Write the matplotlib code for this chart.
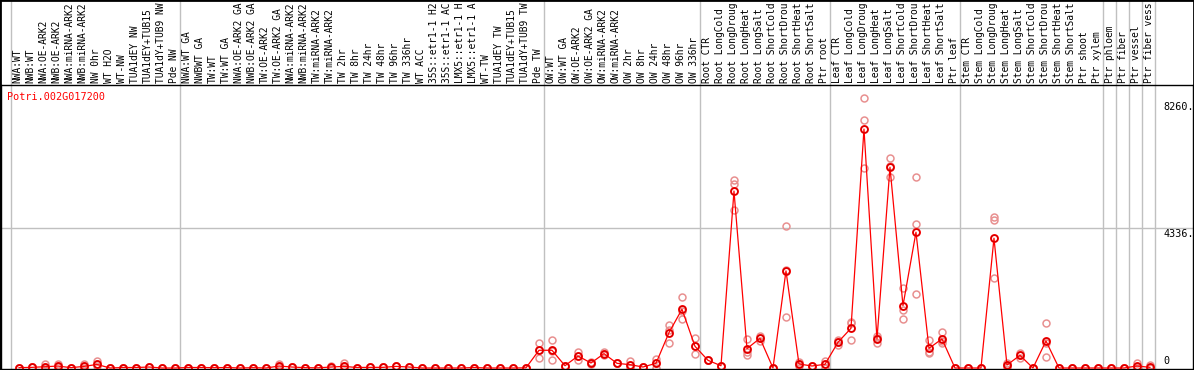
import matplotlib
matplotlib.use('Agg')
import matplotlib.pyplot as plt
import matplotlib.transforms as mtransforms
from matplotlib.patches import Rectangle

# sample labels, one per column (as far as they show in the header band)
labels = [
    'NWA:WT', 'NWB:WT', 'NWA:OE-ARK2', 'NWB:OE-ARK2', 'NWA:miRNA-ARK2', 'NWB:miRNA-ARK2',
    'NW 0hr', 'WT H2O', 'WT-NW', 'TUA1dEY NW', 'TUA1dEY+TUB15', 'TUA1dY+TUB9 NW', 'Pde NW',
    'NWA:WT GA', 'NWBWT GA', 'TW:WT', 'TW:WT GA', 'NWA:OE-ARK2 GA', 'NWB:OE-ARK2 GA',
    'TW:OE-ARK2', 'TW:OE-ARK2 GA', 'NWA:miRNA-ARK2', 'NWB:miRNA-ARK2', 'TW:miRNA-ARK2',
    'TW:miRNA-ARK2', 'TW 2hr', 'TW 8hr', 'TW 24hr', 'TW 48hr', 'TW 96hr', 'TW 336hr', 'WT ACC',
    '35S::etr1-1 H2', '35S::etr1-1 AC', 'LMX5::etr1-1 H', 'LMX5::etr1-1 A', 'WT-TW',
    'TUA1dEY TW', 'TUA1dEY+TUB15', 'TUA1dY+TUB9 TW', 'Pde TW',
    'OW:WT', 'OW:WT GA', 'OW:OE-ARK2', 'OW:OE-ARK2 GA', 'OW:miRNA-ARK2', 'OW:miRNA-ARK2',
    'OW 2hr', 'OW 8hr', 'OW 24hr', 'OW 48hr', 'OW 96hr', 'OW 336hr',
    'Root CTR', 'Root LongCold', 'Root LongDroug', 'Root LongHeat', 'Root LongSalt',
    'Root ShortCold', 'Root ShortDrou', 'Root ShortHeat', 'Root ShortSalt', 'Ptr root',
    'Leaf CTR', 'Leaf LongCold', 'Leaf LongDroug', 'Leaf LongHeat', 'Leaf LongSalt',
    'Leaf ShortCold', 'Leaf ShortDrou', 'Leaf ShortHeat', 'Leaf ShortSalt', 'Ptr leaf',
    'Stem CTR', 'Stem LongCold', 'Stem LongDroug', 'Stem LongHeat', 'Stem LongSalt',
    'Stem ShortCold', 'Stem ShortDrou', 'Stem ShortHeat', 'Stem ShortSalt', 'Ptr shoot',
    'Ptr xylem', 'Ptr phloem', 'Ptr fiber', 'Ptr vessel', 'Ptr fiber vess',
]

# first column of each group (grey separators)
group_starts = [0, 13, 41, 53, 63, 73, 84, 85, 86, 87, 88]

means = [
    10, 20, 40, 60, 10, 50, 110, 0, 15, 15, 30, 0, 0,
    15, 15, 10, 15, 0, 10, 0, 60, 30, 10, 5, 30, 50, 15, 20, 20, 50, 30, 0, 0, 0, 0, 15, 0, 0, 0, 5, 549,
    549, 71, 372, 155, 444, 145, 103, 31, 145, 1095, 1820, 672,
    238, 71, 5480, 600, 920, 0, 3007, 124, 62, 114,
    796, 1230, 7400, 900, 6220, 1932, 4206, 610, 900, 0,
    0, 0, 4020, 93, 392, 0, 837, 0, 0, 0, 0,
    0, 0, 62, 20,
]
rep_a = [
    10, 20, 120, 130, 10, 120, 230, 0, 15, 15, 30, 0, 0,
    15, 15, 10, 15, 0, 10, 0, 120, 30, 10, 5, 60, 150, 15, 20, 20, 50, 30, 0, 0, 0, 0, 15, 0, 0, 0, 5, 775,
    877, 71, 496, 200, 500, 145, 226, 31, 279, 1333, 2190, 920,
    238, 71, 5830, 890, 1000, 0, 4400, 195, 62, 226,
    868, 1435, 8360, 1000, 6500, 2470, 5910, 868, 1105, 0,
    0, 0, 4690, 165, 475, 0, 1385, 0, 0, 0, 0,
    0, 0, 145, 93,
]
rep_b = [
    10, 20, 0, 30, 10, 10, 60, 0, 15, 15, 30, 0, 0,
    15, 15, 10, 15, 0, 10, 0, 40, 30, 10, 5, 10, 0, 15, 20, 20, 50, 30, 0, 0, 0, 0, 15, 0, 0, 0, 5, 300,
    238, 71, 248, 110, 390, 145, 0, 31, 0, 765, 1510, 424,
    238, 71, 4900, 403, 840, 0, 1570, 60, 62, 0,
    724, 858, 6190, 765, 5910, 1520, 2280, 455, 765, 0,
    0, 0, 2780, 20, 300, 0, 350, 0, 0, 0, 0,
    0, 0, 0, 0,
]
rep_c = [
    10, 20, 40, 60, 10, 50, 110, 0, 15, 15, 30, 0, 0,
    15, 15, 10, 15, 0, 10, 0, 60, 30, 10, 5, 30, 50, 15, 20, 20, 50, 30, 0, 0, 0, 0, 15, 0, 0, 0, 5, 572,
    532, 71, 372, 155, 444, 145, 83, 31, 156, 1187, 1760, 672,
    238, 71, 5700, 507, 920, 0, 3050, 117, 62, 116,
    796, 1397, 7680, 935, 6250, 1806, 4460, 507, 830, 0,
    0, 0, 4590, 93, 401, 0, 776, 0, 0, 0, 0,
    0, 0, 41, 0,
]
ytick_vals = [8260, 4336, 0]
ytick_text = ['8260.', '4336.', '0']
gene = 'Potri.002G017200'

W, H = 1194, 370
font = dict(family='DejaVu Sans Mono', size=7.3)
lab_font = dict(family='DejaVu Sans Mono', size=6.9)

fig = plt.figure(figsize=(W / 100, H / 100), dpi=100)
ax = fig.add_axes([1 / W, 1 / H, 1192 / W, (H - 85 - 1) / H])

x = list(range(len(means)))
ax.set_xlim(-1.385, 90.31)
ax.set_ylim(-31, 8765)
ax.set_xticks([])
ax.set_yticks([])
for s in ax.spines.values():
    s.set_color('black')
    s.set_linewidth(1)

# grey separators run through the label band up to the top of the figure
top_frac = (H - 1) / ((H - 85 - 1))
for g in group_starts:
    ax.axvline(g - 0.6, ymin=0, ymax=top_frac, color='#c0c0c0', lw=1,
               clip_on=False, zorder=0)
ax.axhline(4336, color='#c0c0c0', lw=1, zorder=0)

# replicates
for rep in (rep_a, rep_b, rep_c):
    ax.plot(x, rep, 'o', ms=5, mfc='none', mec='#e89090', mew=1.1, zorder=2)

ax.plot(x, means, '-', color='red', lw=0.9, zorder=3)
ax.plot(x, means, 'o', ms=5, mfc='none', mec='red', mew=1.4, zorder=4)
ax.plot(x, means, 'o', ms=5, mfc='none', mec='#800000', mew=0.25, zorder=5)

# rotated column labels above the plot
lab_tr = mtransforms.offset_copy(
    mtransforms.blended_transform_factory(ax.transData, ax.transAxes),
    fig=fig, y=2, units='dots')
for i, lab in enumerate(labels):
    ax.text(i - 0.1, 1, lab, rotation=90, ha='center', va='bottom',
            transform=lab_tr, clip_on=False, **lab_font)

# value labels on the right
yt = mtransforms.blended_transform_factory(ax.transAxes, ax.transData)
for v, t in zip(ytick_vals, ytick_text):
    dy = -6 if v > 0 else 6.5
    tr = mtransforms.offset_copy(yt, fig=fig, y=dy, units='dots')
    ax.text((1163 - 1) / 1192, v, t, ha='left', va='center', transform=tr, **font)

fig.text(7 / W, 1 - 97 / H, gene, color='red', ha='left', va='center', **font)

fig.add_artist(Rectangle((0, 0), 1, 1, transform=fig.transFigure, fill=False,
                         edgecolor='black', lw=2, zorder=10))

fig.savefig('out.png', dpi=100)
